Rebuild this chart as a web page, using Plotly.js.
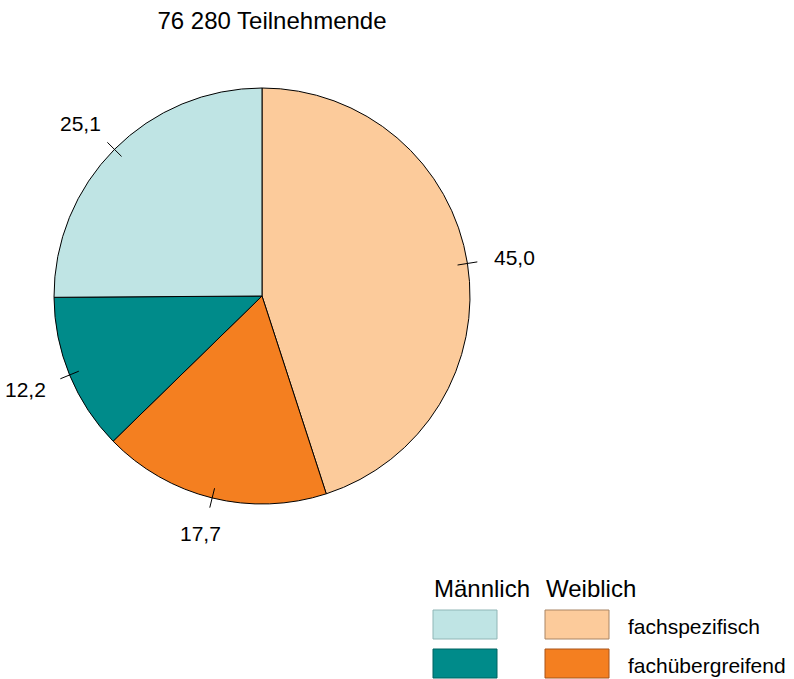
<!DOCTYPE html>
<html>
<head>
<meta charset="utf-8">
<script src="https://cdn.plot.ly/plotly-3.0.1.min.js"></script>
<style>html,body{margin:0;padding:0;background:#fff;}#chart{width:794px;height:679px;}</style>
</head>
<body>
<div id="chart"></div>
<script>
// ---- data ----
const titleText = '76 280 Teilnehmende';
const sliceNames = ['Weiblich fachspezifisch', 'Weiblich fachübergreifend', 'Männlich fachübergreifend', 'Männlich fachspezifisch'];
const sliceValues = [45.0, 17.7, 12.2, 25.1];
const sliceLabels = ['45,0', '17,7', '12,2', '25,1'];
const sliceColors = ['#fccb9b', '#f47f20', '#008b8a', '#bfe4e4'];
const legendHeaders = ['Männlich', 'Weiblich'];
const legendRows = ['fachspezifisch', 'fachübergreifend'];
// legend grid: [row][col] -> slice index
const legendGrid = [[3, 0], [2, 1]];
const borderColors = ['#a98565', '#a8551a', '#006261', '#90b6b6'];

// ---- layout geometry (pixels) ----
const W = 794, H = 679;
const cx = 262, cy = 296, R = 208;
const FONT = '"Liberation Sans", Arial, Helvetica, sans-serif';
const px = x => x / W;
const py = y => 1 - y / H;

const trace = {
  type: 'pie',
  values: sliceValues,
  labels: sliceNames,
  sort: false,
  direction: 'clockwise',
  rotation: 0,
  textinfo: 'none',
  hoverinfo: 'label+value',
  showlegend: false,
  marker: { colors: sliceColors, line: { color: '#000', width: 1 } },
  domain: { x: [px(cx - R), px(cx + R)], y: [py(cy + R), py(cy - R)] }
};

const shapes = [];
const annotations = [];

// value labels with tick marks, positioned from the data
const total = sliceValues.reduce((a, b) => a + b, 0);
let cum = 0;
sliceValues.forEach((v, i) => {
  const mid = (cum + v / 2) / total * 2 * Math.PI;
  cum += v;
  const sx = Math.sin(mid), sy = -Math.cos(mid);
  shapes.push({
    type: 'line', xref: 'paper', yref: 'paper',
    x0: px(cx + sx * (R - 10)), y0: py(cy + sy * (R - 10)),
    x1: px(cx + sx * (R + 10)), y1: py(cy + sy * (R + 10)),
    line: { color: '#000', width: 1 }
  });
  annotations.push({
    xref: 'paper', yref: 'paper', showarrow: false,
    x: px(cx + sx * (R + 26) + sx * 22), y: py(cy + sy * (R + 26) + sy * 11),
    xanchor: 'center', yanchor: 'middle',
    text: sliceLabels[i], font: { family: FONT, size: 21, color: '#000' }
  });
});

// custom legend
const colX = [433, 545];
const boxW = 64, boxH = 29;
const rowY = [610, 649];
legendHeaders.forEach((h, c) => {
  annotations.push({
    xref: 'paper', yref: 'paper', showarrow: false,
    x: px(colX[c] - 1), y: py(588), xanchor: 'left', yanchor: 'middle',
    text: h, font: { family: FONT, size: 24, color: '#000' }
  });
});
legendGrid.forEach((row, r) => {
  row.forEach((idx, c) => {
    shapes.push({
      type: 'rect', xref: 'paper', yref: 'paper',
      x0: px(colX[c]), x1: px(colX[c] + boxW),
      y0: py(rowY[r] + boxH), y1: py(rowY[r]),
      fillcolor: sliceColors[idx], line: { color: borderColors[idx], width: 1 }
    });
  });
  annotations.push({
    xref: 'paper', yref: 'paper', showarrow: false,
    x: px(626), y: py(rowY[r] + 16), xanchor: 'left', yanchor: 'middle',
    text: legendRows[r], font: { family: FONT, size: 21, color: '#000' }
  });
});

const layout = {
  width: W, height: H,
  margin: { l: 0, r: 0, t: 0, b: 0 },
  paper_bgcolor: '#fff',
  plot_bgcolor: '#fff',
  title: {
    text: titleText,
    x: px(272), xanchor: 'center', xref: 'paper',
    y: py(21), yanchor: 'middle', yref: 'paper',
    font: { family: FONT, size: 24, color: '#000' }
  },
  showlegend: false,
  shapes: shapes,
  annotations: annotations
};

Plotly.newPlot('chart', [trace], layout, { displayModeBar: false, staticPlot: true });
</script>
</body>
</html>
